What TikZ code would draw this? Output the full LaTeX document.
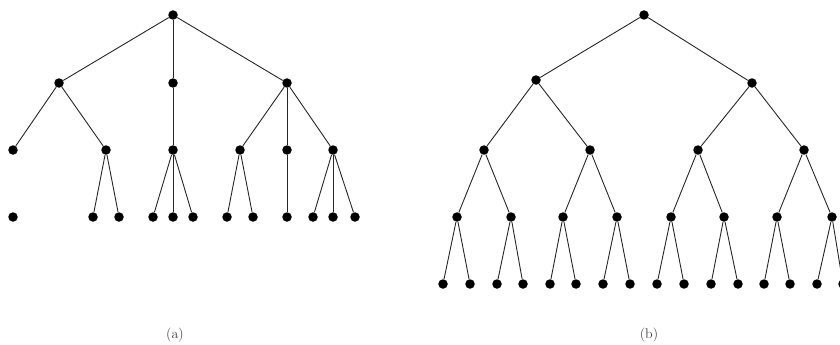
\documentclass[tikz,border=0pt]{standalone}
\begin{document}
\begin{tikzpicture}[x=1pt,y=-1pt,
  dot/.style={circle,fill=black,inner sep=0pt,minimum size=9.5pt},
  edge/.style={draw=black!85,line width=0.9pt},
  captxt/.style={font=\fontsize{14}{16}\selectfont,text=black!75}]
\useasboundingbox (0,0) rectangle (840,345);
\clip (0,0) rectangle (840,345);
% ---------- tree (a) ----------
\node[dot] (a) at (173,15) {};
\node[dot] (a1) at (59,83) {};
\node[dot] (a2) at (173,83) {};
\node[dot] (a3) at (287,83) {};
\node[dot] (a11) at (13,150) {};
\node[dot] (a12) at (106,150) {};
\node[dot] (a21) at (173,150) {};
\node[dot] (a31) at (240,150) {};
\node[dot] (a32) at (287,150) {};
\node[dot] (a33) at (333,150) {};
\node[dot] (b0) at (13,217) {};
\node[dot] (a121) at (93,217) {};
\node[dot] (a122) at (119,217) {};
\node[dot] (a211) at (153,217) {};
\node[dot] (a212) at (173,217) {};
\node[dot] (a213) at (193,217) {};
\node[dot] (a311) at (227,217) {};
\node[dot] (a312) at (253,217) {};
\node[dot] (a321) at (287,217) {};
\node[dot] (a331) at (313,217) {};
\node[dot] (a332) at (333,217) {};
\node[dot] (a333) at (355,217) {};
\foreach \u/\v in {a/a1,a/a2,a/a3,a1/a11,a1/a12,a2/a21,a3/a31,a3/a32,a3/a33,
  a12/a121,a12/a122,a21/a211,a21/a212,a21/a213,a31/a311,a31/a312,a32/a321,
  a33/a331,a33/a332,a33/a333}
  \draw[edge] (\u) -- (\v);
\node[captxt] (la) at (175,335) {(a)};
% ---------- tree (b) ----------
\node[dot] (r) at (644,15) {};
\node[dot] (r1) at (536,80) {};
\node[dot] (r2) at (752,83) {};
\foreach \i/\x/\p in {1/484/r1,2/590/r1,3/698/r2,4/804/r2}{
  \node[dot] (s\i) at (\x,150) {};
  \draw[edge] (\p) -- (s\i);
}
\foreach \i/\x/\p in {1/457/s1,2/511/s1,3/563/s2,4/617/s2,5/671/s3,6/724/s3,7/777/s4,8/832/s4}{
  \node[dot] (t\i) at (\x,217) {};
  \draw[edge] (\p) -- (t\i);
}
\foreach \i/\x/\p in {1/443/t1,2/470/t1,3/497/t2,4/523/t2,5/550/t3,6/576/t3,7/603/t4,8/630/t4,
  9/657/t5,10/684/t5,11/711/t6,12/738/t6,13/764/t7,14/790/t7,15/817/t8,16/843/t8}{
  \node[dot] (u\i) at (\x,284) {};
  \draw[edge] (\p) -- (u\i);
}
\draw[edge] (r) -- (r1);
\draw[edge] (r) -- (r2);
\node[captxt] (lb) at (649,335) {(b)};
\end{tikzpicture}
\end{document}
